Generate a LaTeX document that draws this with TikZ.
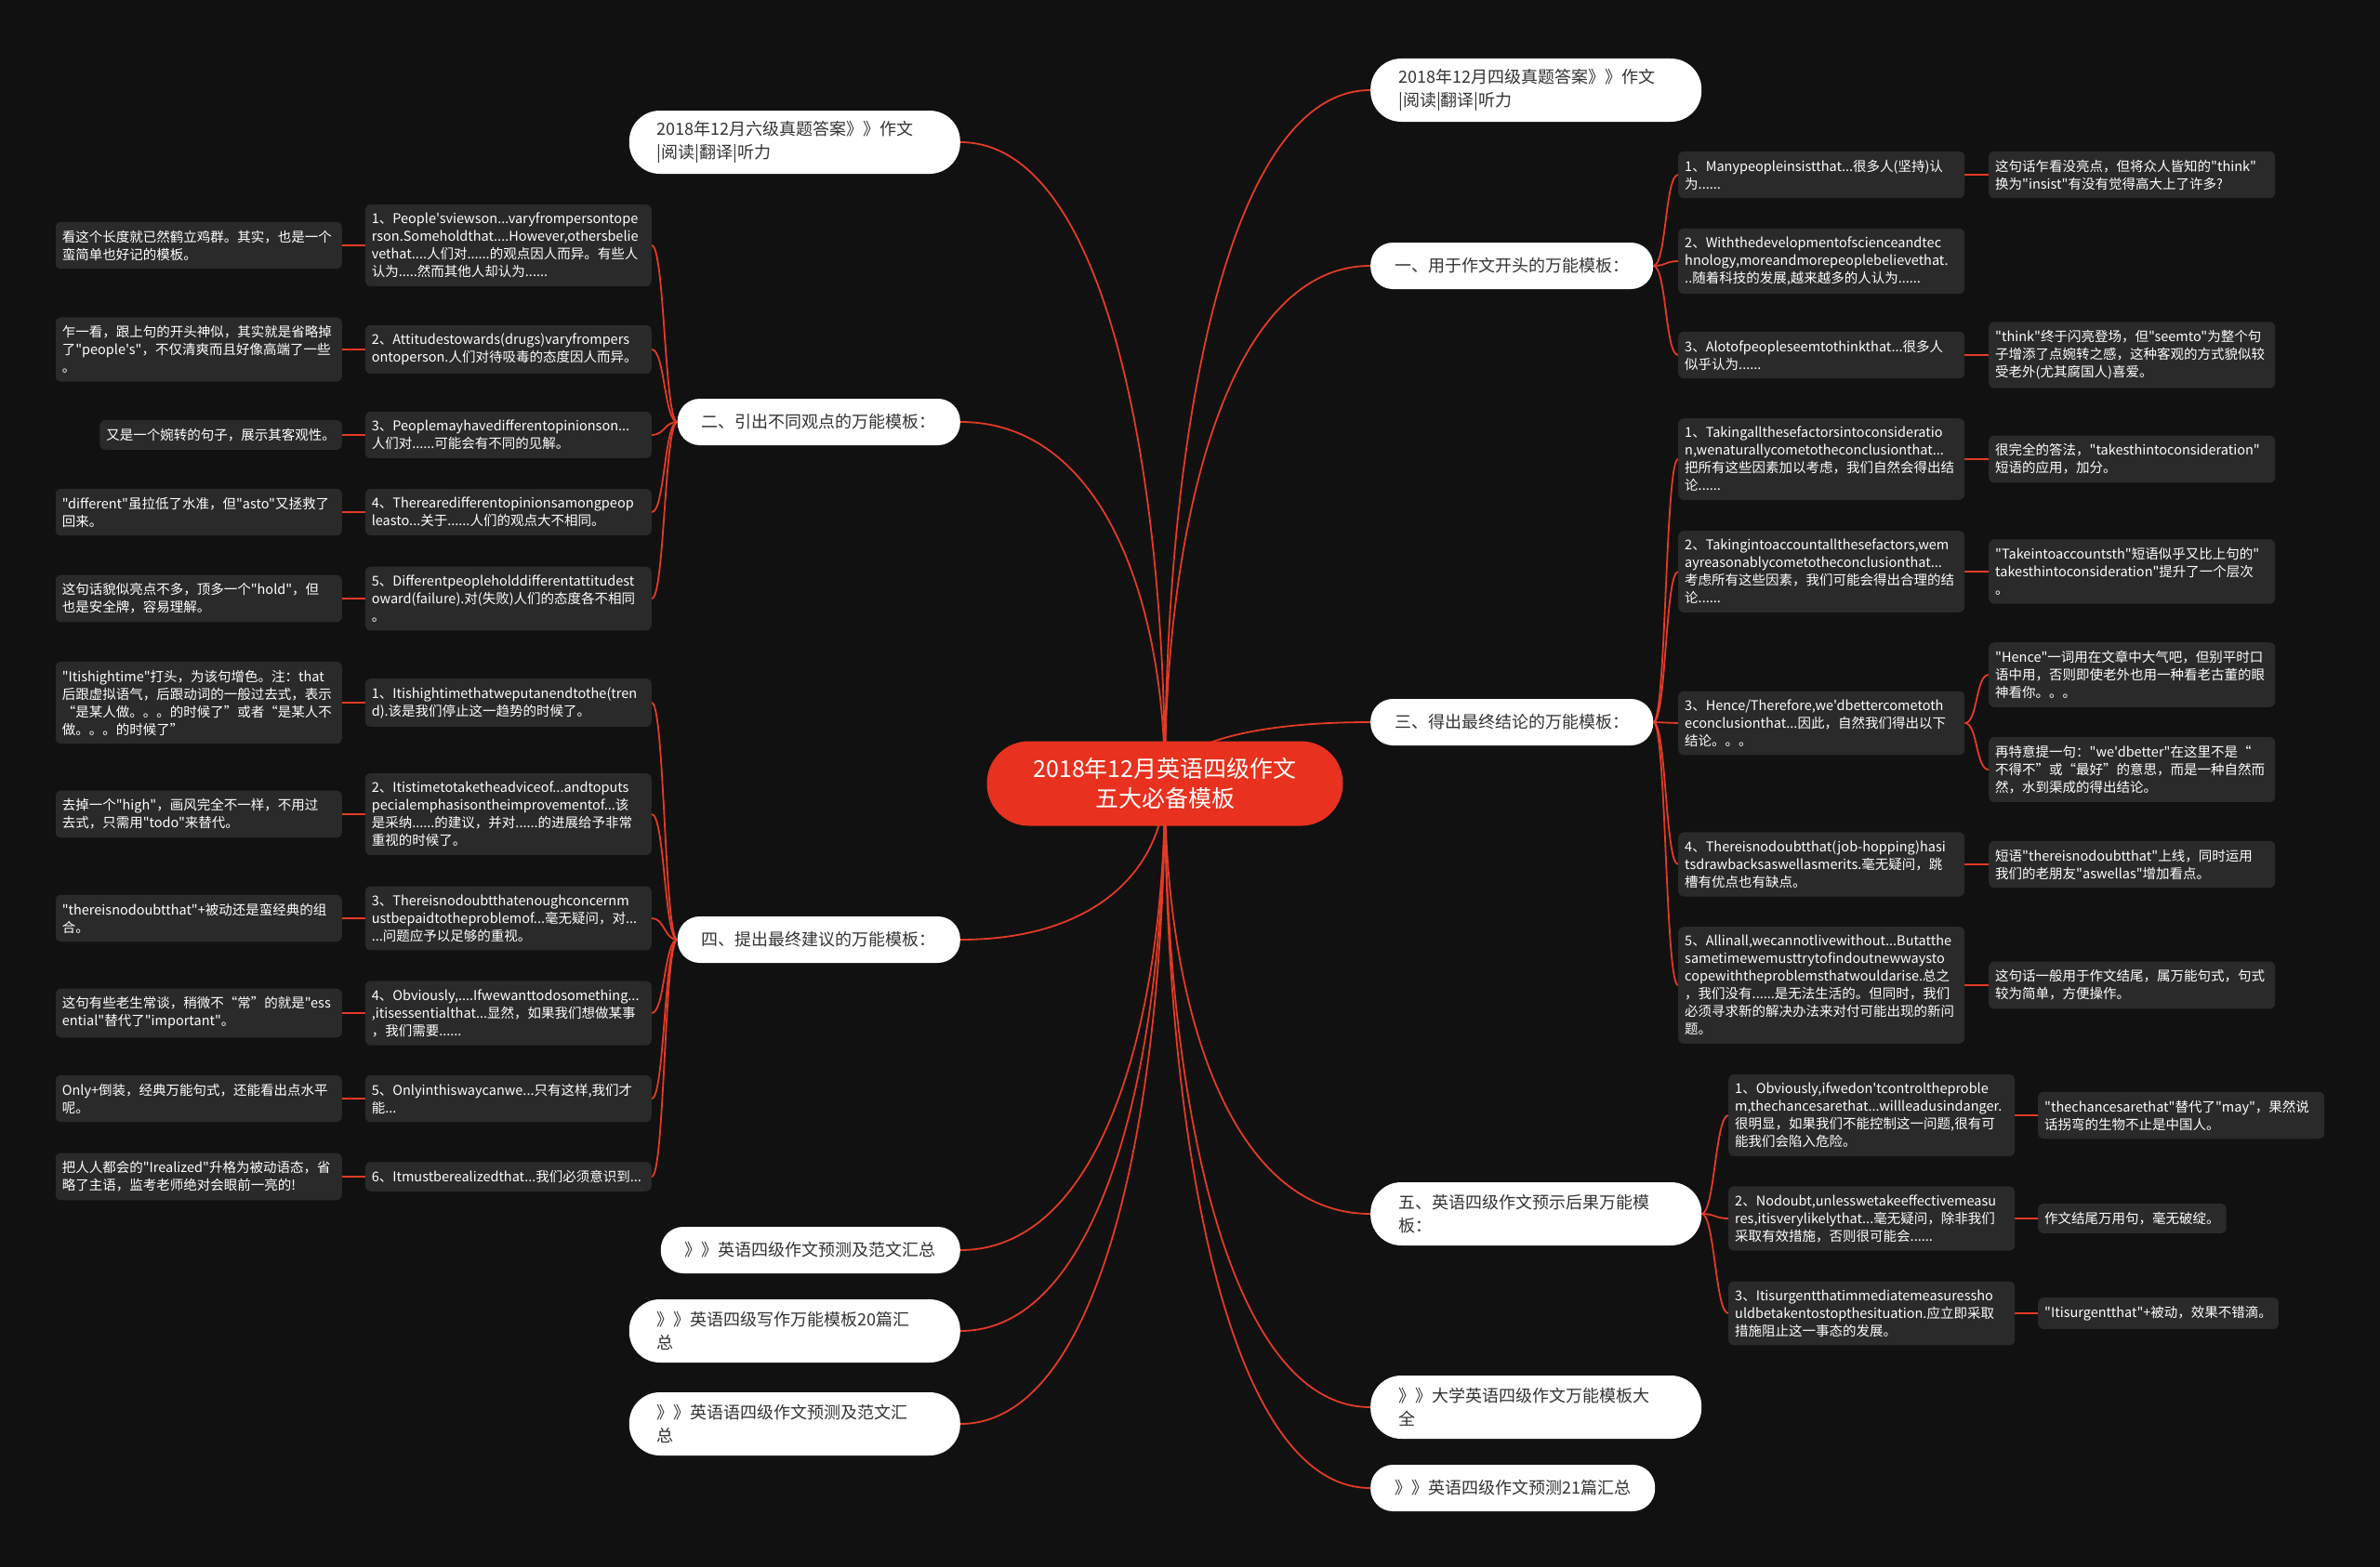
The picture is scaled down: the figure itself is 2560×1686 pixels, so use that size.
\documentclass[tikz,border=0pt]{standalone}
\usepackage{fontspec}
\setmainfont{Noto Sans CJK SC}[Ligatures=TeXOff]
\usetikzlibrary{calc,backgrounds}

\definecolor{bgdark}{HTML}{111111}
\definecolor{rootred}{HTML}{E8311E}
\definecolor{linkred}{HTML}{E33A26}
\definecolor{cardgray}{HTML}{2A2A2A}
\definecolor{pilltext}{HTML}{333333}

\tikzset{
  root/.style={fill=rootred, text=white, rounded corners=45pt, minimum width=383pt,
    minimum height=91pt, align=center, font=\fontsize{25}{32}\selectfont},
  pill/.style={fill=white, text=pilltext, rounded corners=24pt, inner xsep=26pt,
    inner ysep=0pt, minimum height=50pt, align=left, font=\fontsize{18}{25}\selectfont},
  pilltwo/.style={pill, rounded corners=33pt, minimum height=68pt, inner xsep=30pt, text width=296pt},
  card/.style={fill=cardgray, text=white, rounded corners=6pt, inner xsep=7pt,
    inner ysep=9pt, align=left, font=\fontsize{14.5}{19}\selectfont},
  item/.style={card, text width=294pt},
  link/.style={draw=linkred, line width=1.8pt},
  stub/.style={draw=linkred, line width=2.8pt},
}

\begin{document}
\begin{tikzpicture}[x=1pt,y=-1pt]
  \useasboundingbox (0,0) rectangle (2560,1686);

  % centre
  \node[root] (root) at (1253,843) {2018年12月英语四级作文\\五大必备模板};

  % right branches
  \node[pilltwo, anchor=west] (R0) at (1474,97) {2018年12月四级真题答案》》作文\\|阅读|翻译|听力};
  \node[pill, anchor=west] (R1) at (1474,286) {一、用于作文开头的万能模板：};
  \node[pill, anchor=west] (R2) at (1474,777) {三、得出最终结论的万能模板：};
  \node[pilltwo, anchor=west] (R3) at (1474,1306) {五、英语四级作文预示后果万能模\\板：};
  \node[pilltwo, anchor=west] (R4) at (1474,1514) {》》大学英语四级作文万能模板大\\全};
  \node[pill, anchor=west] (R5) at (1474,1601) {》》英语四级作文预测21篇汇总};

  % left branches
  \node[pilltwo, anchor=east] (L0) at (1033,153) {2018年12月六级真题答案》》作文\\|阅读|翻译|听力};
  \node[pill, anchor=east] (L1) at (1033,454) {二、引出不同观点的万能模板：};
  \node[pill, anchor=east] (L2) at (1033,1011) {四、提出最终建议的万能模板：};
  \node[pill, anchor=east] (L3) at (1033,1345) {》》英语四级作文预测及范文汇总};
  \node[pilltwo, anchor=east] (L4) at (1033,1432) {》》英语四级写作万能模板20篇汇\\总};
  \node[pilltwo, anchor=east] (L5) at (1033,1532) {》》英语语四级作文预测及范文汇\\总};

  % R1 items
  \node[item, anchor=west] (c1) at (1805,188) {1、Manypeopleinsistthat...很多人(坚持)认\\为......};
  \node[item, anchor=west] (c2) at (1805,281) {2、Withthedevelopmentofscienceandtec\\hnology,moreandmorepeoplebelievethat.\\..随着科技的发展,越来越多的人认为......};
  \node[item, anchor=west] (c3) at (1805,382) {3、Alotofpeopleseemtothinkthat...很多人\\似乎认为......};
  \node[item, anchor=west] (nc1) at (2139,188) {这句话乍看没亮点，但将众人皆知的"think"\\换为"insist"有没有觉得高大上了许多?};
  \node[item, anchor=west] (nc3) at (2139,382) {"think"终于闪亮登场，但"seemto"为整个句\\子增添了点婉转之感，这种客观的方式貌似较\\受老外(尤其腐国人)喜爱。};

  % R2 items
  \node[item, anchor=west] (d1) at (1805,494) {1、Takingallthesefactorsintoconsideratio\\n,wenaturallycometotheconclusionthat...\\把所有这些因素加以考虑，我们自然会得出结\\论......};
  \node[item, anchor=west] (d2) at (1805,615) {2、Takingintoaccountallthesefactors,wem\\ayreasonablycometotheconclusionthat...\\考虑所有这些因素，我们可能会得出合理的结\\论......};
  \node[item, anchor=west] (d3) at (1805,778) {3、Hence/Therefore,we'dbettercometoth\\econclusionthat...因此，自然我们得出以下\\结论。。。};
  \node[item, anchor=west] (d4) at (1805,930) {4、Thereisnodoubtthat(job-hopping)hasi\\tsdrawbacksaswellasmerits.毫无疑问，跳\\槽有优点也有缺点。};
  \node[item, anchor=west] (d5) at (1805,1060) {5、Allinall,wecannotlivewithout...Butatthe\\sametimewemusttrytofindoutnewwaysto\\copewiththeproblemsthatwouldarise.总之\\，我们没有......是无法生活的。但同时，我们\\必须寻求新的解决办法来对付可能出现的新问\\题。};
  \node[item, anchor=west] (nd1) at (2139,494) {很完全的答法，"takesthintoconsideration"\\短语的应用，加分。};
  \node[item, anchor=west] (nd2) at (2139,615) {"Takeintoaccountsth"短语似乎又比上句的"\\takesthintoconsideration"提升了一个层次\\。};
  \node[item, anchor=west] (nd3a) at (2139,726) {"Hence"一词用在文章中大气吧，但别平时口\\语中用，否则即使老外也用一种看老古董的眼\\神看你。。。};
  \node[item, anchor=west] (nd3b) at (2139,828) {再特意提一句："we'dbetter"在这里不是“\\不得不”或“最好”的意思，而是一种自然而\\然，水到渠成的得出结论。};
  \node[item, anchor=west] (nd4) at (2139,930) {短语"thereisnodoubtthat"上线，同时运用\\我们的老朋友"aswellas"增加看点。};
  \node[item, anchor=west] (nd5) at (2139,1060) {这句话一般用于作文结尾，属万能句式，句式\\较为简单，方便操作。};

  % R3 items
  \node[item, anchor=west] (e1) at (1859,1200) {1、Obviously,ifwedon'tcontroltheproble\\m,thechancesarethat...willleadusindanger.\\很明显，如果我们不能控制这一问题,很有可\\能我们会陷入危险。};
  \node[item, anchor=west] (e2) at (1859,1311) {2、Nodoubt,unlesswetakeeffectivemeasu\\res,itisverylikelythat...毫无疑问，除非我们\\采取有效措施，否则很可能会......};
  \node[item, anchor=west] (e3) at (1859,1413) {3、Itisurgentthatimmediatemeasuressho\\uldbetakentostopthesituation.应立即采取\\措施阻止这一事态的发展。};
  \node[item, anchor=west] (ne1) at (2192,1200) {"thechancesarethat"替代了"may"，果然说\\话拐弯的生物不止是中国人。};
  \node[card, anchor=west] (ne2) at (2192,1311) {作文结尾万用句，毫无破绽。};
  \node[card, anchor=west] (ne3) at (2192,1413) {"Itisurgentthat"+被动，效果不错滴。};

  % L1 items
  \node[item, anchor=east] (a1) at (701,264) {1、People'sviewson...varyfrompersontope\\rson.Someholdthat....However,othersbelie\\vethat....人们对......的观点因人而异。有些人\\认为.....然而其他人却认为......};
  \node[item, anchor=east] (a2) at (701,376) {2、Attitudestowards(drugs)varyfrompers\\ontoperson.人们对待吸毒的态度因人而异。};
  \node[item, anchor=east] (a3) at (701,468) {3、Peoplemayhavedifferentopinionson...\\人们对......可能会有不同的见解。};
  \node[item, anchor=east] (a4) at (701,551) {4、Therearedifferentopinionsamongpeop\\leasto...关于......人们的观点大不相同。};
  \node[item, anchor=east] (a5) at (701,644) {5、Differentpeopleholddifferentattitudest\\oward(failure).对(失败)人们的态度各不相同\\。};
  \node[item, anchor=east] (na1) at (368,264) {看这个长度就已然鹤立鸡群。其实，也是一个\\蛮简单也好记的模板。};
  \node[item, anchor=east] (na2) at (368,376) {乍一看，跟上句的开头神似，其实就是省略掉\\了"people's"，不仅清爽而且好像高端了一些\\。};
  \node[card, anchor=east] (na3) at (368,468) {又是一个婉转的句子，展示其客观性。};
  \node[item, anchor=east] (na4) at (368,551) {"different"虽拉低了水准，但"asto"又拯救了\\回来。};
  \node[item, anchor=east] (na5) at (368,644) {这句话貌似亮点不多，顶多一个"hold"，但\\也是安全牌，容易理解。};

  % L2 items
  \node[item, anchor=east] (b1) at (701,756) {1、Itishightimethatweputanendtothe(tren\\d).该是我们停止这一趋势的时候了。};
  \node[item, anchor=east] (b2) at (701,876) {2、Itistimetotaketheadviceof...andtoputs\\pecialemphasisontheimprovementof...该\\是采纳......的建议，并对......的进展给予非常\\重视的时候了。};
  \node[item, anchor=east] (b3) at (701,988) {3、Thereisnodoubtthatenoughconcernm\\ustbepaidtotheproblemof...毫无疑问，对...\\...问题应予以足够的重视。};
  \node[item, anchor=east] (b4) at (701,1090) {4、Obviously,....Ifwewanttodosomething...\\,itisessentialthat...显然，如果我们想做某事\\，我们需要......};
  \node[item, anchor=east] (b5) at (701,1182) {5、Onlyinthiswaycanwe...只有这样,我们才\\能...};
  \node[item, anchor=east] (b6) at (701,1266) {6、Itmustberealizedthat...我们必须意识到...};
  \node[item, anchor=east] (nb1) at (368,756) {"Itishightime"打头，为该句增色。注：that\\后跟虚拟语气，后跟动词的一般过去式，表示\\“是某人做。。。的时候了”或者“是某人不\\做。。。的时候了”};
  \node[item, anchor=east] (nb2) at (368,876) {去掉一个"high"，画风完全不一样，不用过\\去式，只需用"todo"来替代。};
  \node[item, anchor=east] (nb3) at (368,988) {"thereisnodoubtthat"+被动还是蛮经典的组\\合。};
  \node[item, anchor=east] (nb4) at (368,1090) {这句有些老生常谈，稍微不“常”的就是"ess\\ential"替代了"important"。};
  \node[item, anchor=east] (nb5) at (368,1182) {Only+倒装，经典万能句式，还能看出点水平\\呢。};
  \node[item, anchor=east] (nb6) at (368,1266) {把人人都会的"Irealized"升格为被动语态，省\\略了主语，监考老师绝对会眼前一亮的!};

  \begin{pgfonlayer}{background}
    \fill[bgdark] (0,0) rectangle (2560,1686);
    % trunk
    \foreach \n in {R0,R1,R2,R3,R4,R5}
      \draw[link] (root.center) .. controls ($(root.center)!0.5!(root.center|-\n.west)$) and ($(\n.west)!0.7!(root.center|-\n.west)$) .. (\n.west);
    \foreach \n in {L0,L1,L2,L3,L4,L5}
      \draw[link] (root.center) .. controls ($(root.center)!0.5!(root.center|-\n.east)$) and ($(\n.east)!0.7!(root.center|-\n.east)$) .. (\n.east);
    % forks
    \foreach \i in {1,2,3}
      \draw[link] (R1.east) .. controls +(14,0) and +(-14,0) .. (c\i.west);
    \foreach \i in {1,...,5}
      \draw[link] (R2.east) .. controls +(14,0) and +(-14,0) .. (d\i.west);
    \foreach \i in {1,2,3}
      \draw[link] (R3.east) .. controls +(14,0) and +(-14,0) .. (e\i.west);
    \foreach \i in {1,...,5}
      \draw[link] (L1.west) .. controls +(-14,0) and +(14,0) .. (a\i.east);
    \foreach \i in {1,...,6}
      \draw[link] (L2.west) .. controls +(-14,0) and +(14,0) .. (b\i.east);
    \draw[link] (d3.east) .. controls +(14,0) and +(-14,0) .. (nd3a.west);
    \draw[link] (d3.east) .. controls +(14,0) and +(-14,0) .. (nd3b.west);
    % notes
    \foreach \i in {1,3} \draw[stub] (c\i.east) -- (nc\i.west);
    \foreach \i in {1,2,4,5} \draw[stub] (d\i.east) -- (nd\i.west);
    \foreach \i in {1,2,3} \draw[stub] (e\i.east) -- (ne\i.west);
    \foreach \i in {1,...,5} \draw[stub] (a\i.west) -- (na\i.east);
    \foreach \i in {1,...,6} \draw[stub] (b\i.west) -- (nb\i.east);
  \end{pgfonlayer}
\end{tikzpicture}
\end{document}
